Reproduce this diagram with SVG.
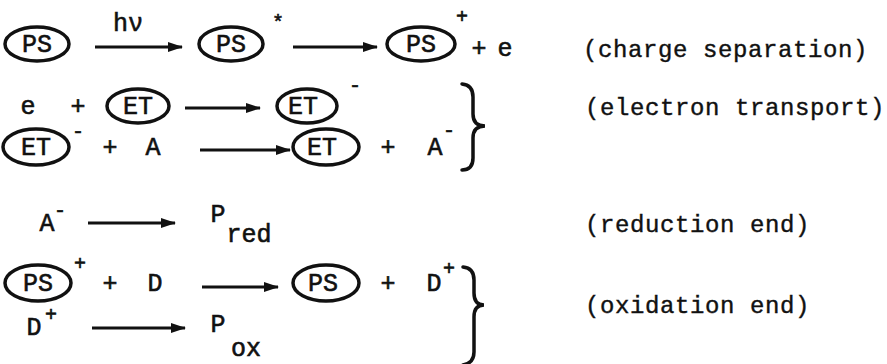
<svg xmlns="http://www.w3.org/2000/svg" width="887" height="364" viewBox="0 0 887 364">
<defs>
<marker id="ah" markerUnits="userSpaceOnUse" markerWidth="16" markerHeight="12" refX="14" refY="6" orient="auto">
<path d="M0,1 L15,6 L0,11 Z" fill="#111"/>
</marker>
<style>
.t{font-family:"Liberation Mono","DejaVu Sans Mono",monospace;font-size:25px;fill:#111;stroke:#111;stroke-width:0.6;text-anchor:middle}
.s{font-family:"Liberation Mono","DejaVu Sans Mono",monospace;font-size:20px;fill:#111;stroke:#111;stroke-width:0.6;text-anchor:middle}
.l{font-family:"Liberation Mono","DejaVu Sans Mono",monospace;font-size:24px;fill:#111;stroke:#111;stroke-width:0.4;letter-spacing:0.6px}
.n{fill:none;stroke:#111;stroke-width:3.5}
.a{fill:none;stroke:#111;stroke-width:3;marker-end:url(#ah)}
.b{fill:none;stroke:#111;stroke-width:3.5;stroke-linecap:round}
</style>
</defs>
<rect width="887" height="364" fill="#fff"/>
<g id="connectors">
<line class="a" x1="95" y1="47" x2="182" y2="47"/>
<line class="a" x1="293" y1="47" x2="377" y2="47"/>
<line class="a" x1="185" y1="108" x2="260" y2="108"/>
<line class="a" x1="200" y1="150" x2="290" y2="150"/>
<line class="a" x1="88" y1="223" x2="175" y2="223"/>
<line class="a" x1="202" y1="287" x2="278" y2="287"/>
<line class="a" x1="92" y1="328" x2="185" y2="328"/>
</g>
<g id="row1">
<g id="ps1"><ellipse class="n" cx="37" cy="44" rx="32" ry="17"/><text class="t" x="37" y="52">PS</text></g>
<text class="t" x="128" y="31" font-size="22">hν</text>
<g id="ps2"><ellipse class="n" cx="231" cy="44" rx="32" ry="17"/><text class="t" x="231" y="52">PS</text></g>
<text class="s" x="278" y="29">*</text>
<g id="ps3"><ellipse class="n" cx="421" cy="44" rx="34" ry="17"/><text class="t" x="421" y="52">PS</text></g>
<text class="s" x="462" y="23">+</text>
<text class="t" x="479" y="56">+</text>
<text class="t" x="505" y="56">e</text>
<text class="l" x="583" y="57">(charge separation)</text>
</g>
<g id="row2">
<text class="t" x="28" y="114">e</text>
<text class="t" x="78" y="114">+</text>
<g id="et1"><ellipse class="n" cx="138" cy="106" rx="31" ry="17"/><text class="t" x="138" y="114">ET</text></g>
<g id="et2"><ellipse class="n" cx="307" cy="106" rx="30" ry="17"/><text class="t" x="303" y="114">ET</text></g>
<text class="s" x="355" y="92">-</text>
<text class="l" x="585" y="115">(electron transport)</text>
</g>
<g id="row3">
<g id="et3"><ellipse class="n" cx="36" cy="147" rx="33" ry="18"/><text class="t" x="36" y="155">ET</text></g>
<text class="s" x="78" y="138">-</text>
<text class="t" x="110" y="155">+</text>
<text class="t" x="153" y="155">A</text>
<g id="et4"><ellipse class="n" cx="326" cy="147" rx="33" ry="18"/><text class="t" x="322" y="155">ET</text></g>
<text class="t" x="388" y="155">+</text>
<text class="t" x="435" y="155">A</text>
<text class="s" x="449" y="137">-</text>
<path class="b" d="M462,84 Q473,85 473,97 L473,114 Q473,126 485,126 Q473,126 473,138 L473,158 Q473,170 462,170"/>
</g>
<g id="row4">
<text class="t" x="47" y="231">A</text>
<text class="s" x="60" y="217">-</text>
<text class="t" x="218" y="222">P</text>
<text class="t" x="249" y="242">red</text>
<text class="l" x="585" y="232">(reduction end)</text>
</g>
<g id="row5">
<g id="ps4"><ellipse class="n" cx="38" cy="283" rx="33" ry="18"/><text class="t" x="38" y="291">PS</text></g>
<text class="s" x="80" y="270">+</text>
<text class="t" x="110" y="291">+</text>
<text class="t" x="155" y="291">D</text>
<g id="ps5"><ellipse class="n" cx="326" cy="283" rx="33" ry="18"/><text class="t" x="323" y="291">PS</text></g>
<text class="t" x="388" y="291">+</text>
<text class="t" x="434" y="291">D</text>
<text class="s" x="449" y="275">+</text>
<path class="b" d="M463,267 Q474,268 474,280 L474,293 Q474,305 484,305 Q474,305 474,317 L474,352 Q474,363 463,365"/>
<text class="l" x="585" y="313">(oxidation end)</text>
</g>
<g id="row6">
<text class="t" x="34" y="335">D</text>
<text class="s" x="51" y="321">+</text>
<text class="t" x="218" y="332">P</text>
<text class="t" x="246" y="356">ox</text>
</g>
</svg>
